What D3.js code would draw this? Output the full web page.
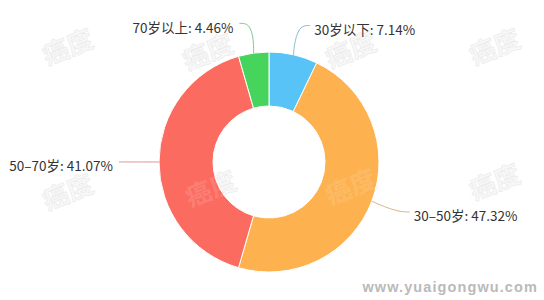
<!DOCTYPE html>
<html>
<head>
<meta charset="utf-8">
<script src="https://cdn.jsdelivr.net/npm/d3@7"></script>
<style>
  html, body { margin: 0; padding: 0; background: #fff; }
  svg { display: block; }
</style>
</head>
<body>
<div id="chart"></div>
<script>
// data
var categories = ['30岁以下', '30-50岁', '50-70岁', '70岁以上'];
var values = [7.14, 47.32, 41.07, 4.46];
var colors = ['#58c3f7', '#fdb14f', '#fb6b5f', '#47d45d'];
var labelText = ['30岁以下: 7.14%', '30–50岁: 47.32%', '50–70岁: 41.07%', '70岁以上: 4.46%'];
var watermarkPos = [[67, 45], [207, 50], [350, 48], [494, 45], [67, 190], [210, 187], [350, 185], [494, 180]];

var W = 544, H = 300;
var cx = 269, cy = 162, R = 110, r = 56;

var svg = d3.select('#chart').append('svg')
    .attr('width', W)
    .attr('height', H);

// watermarks under everything
var wm = svg.append('g');
watermarkPos.forEach(function(p) {
    wm.append('text')
        .attr('transform', 'translate(' + p[0] + ',' + p[1] + ') rotate(-22)')
        .attr('text-anchor', 'middle')
        .attr('dominant-baseline', 'central')
        .style('font-family', '"Noto Sans CJK SC", sans-serif')
        .style('font-size', '26px')
        .style('font-weight', 'bold')
        .style('fill', '#f8f8f8')
        .style('stroke', '#ececec')
        .style('stroke-width', 0.7)
        .text('癌度');
});

var pie = d3.pie().sort(null).value(function(d) { return d; });
var arcs = pie(values);
var arc = d3.arc().innerRadius(r).outerRadius(R);

var g = svg.append('g').attr('transform', 'translate(' + cx + ',' + cy + ')');

g.selectAll('path.slice')
    .data(arcs)
    .enter().append('path')
    .attr('class', 'slice')
    .attr('d', arc)
    .attr('fill', function(d, i) { return colors[i]; })
    .attr('stroke', '#fff')
    .attr('stroke-width', 1);

// watermarks over the ring (faint)
svg.append('g').selectAll('text')
    .data([[210, 187], [350, 185]])
    .enter().append('text')
    .attr('transform', function(p) { return 'translate(' + p[0] + ',' + p[1] + ') rotate(-22)'; })
    .attr('text-anchor', 'middle')
    .attr('dominant-baseline', 'central')
    .style('font-family', '"Noto Sans CJK SC", sans-serif')
    .style('font-size', '26px')
    .style('font-weight', 'bold')
    .style('fill', '#fff')
    .style('fill-opacity', 0.15)
    .text('癌度');

// label lines
function pt(a, rad) {
    return [Math.sin(a) * rad, -Math.cos(a) * rad];
}
var line = d3.line().curve(d3.curveBasis);

arcs.forEach(function(d, i) {
    var mid = (d.startAngle + d.endAngle) / 2;
    var p0 = pt(mid, R);
    var p1 = pt(mid, R + 30);
    var right = Math.sin(mid) >= 0;
    var p2 = [p1[0] + (right ? 10 : -10), p1[1]];
    var pm = [(p0[0] + p1[0]) / 2 + (right ? -2 : 2), (p0[1] + p1[1]) / 2];

    g.append('path')
        .attr('d', line([p0, pm, p1, p2]))
        .attr('fill', 'none')
        .attr('stroke', d3.interpolateRgb(colors[i], '#bbbbbb')(0.55))
        .attr('stroke-width', 1);

    g.append('text')
        .attr('x', p2[0] + (right ? 4 : -6))
        .attr('y', p2[1] + 3.5)
        .attr('text-anchor', right ? 'start' : 'end')
        .attr('dominant-baseline', 'central')
        .style('font-family', '"Noto Sans CJK SC", sans-serif')
        .style('font-size', '13.5px')
        .style('fill', '#333')
        .text(labelText[i]);
});

// site mark
svg.append('text')
    .attr('x', 538)
    .attr('y', 287)
    .attr('text-anchor', 'end')
    .attr('dominant-baseline', 'central')
    .style('font-family', '"Liberation Sans", Arial, sans-serif')
    .style('font-size', '14.5px')
    .style('font-weight', 'bold')
    .style('letter-spacing', '1.1px')
    .style('fill', '#bababa')
    .text('www.yuaigongwu.com');
</script>
</body>
</html>
